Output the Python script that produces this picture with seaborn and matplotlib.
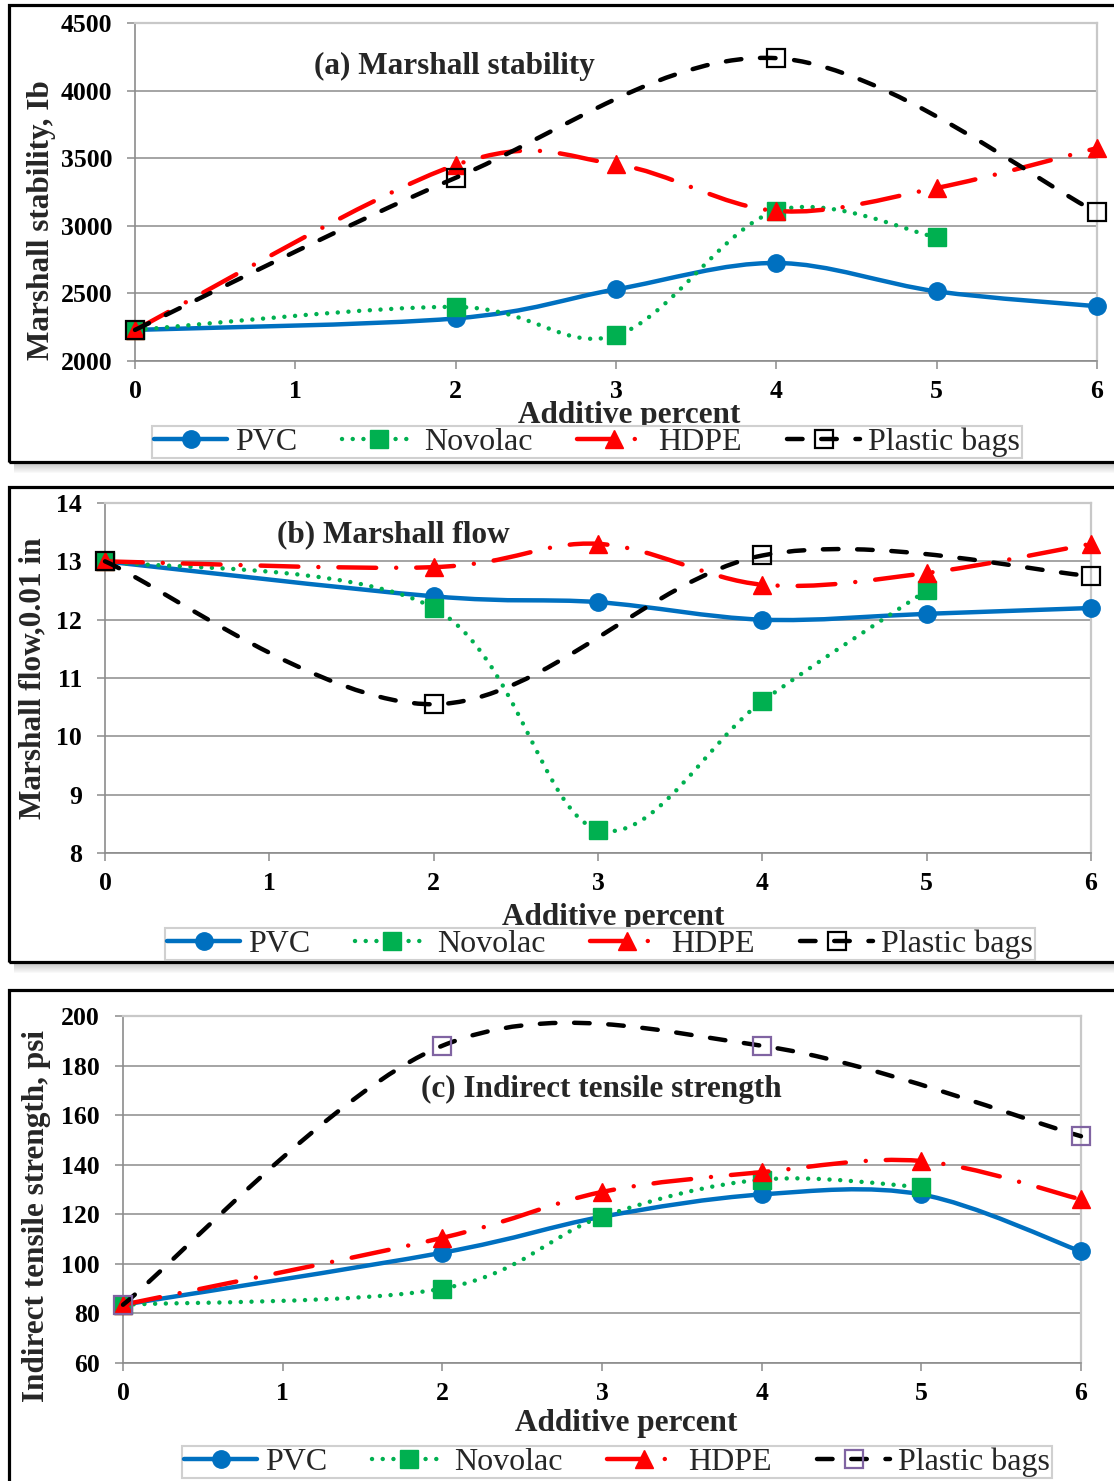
import numpy as np
import matplotlib
matplotlib.use("Agg")
import matplotlib.pyplot as plt
import seaborn as sns
from matplotlib.path import Path
from matplotlib.patches import PathPatch, Rectangle
from matplotlib.lines import Line2D

# ---------------- data ----------------
x_tick_labels = ["0", "1", "2", "3", "4", "5", "6"]
x_main = [0, 2, 3, 4, 5, 6]
x_novolac = [0, 2, 3, 4, 5]
x_bags = [0, 2, 4, 6]
series_names = ["PVC", "Novolac", "HDPE", "Plastic bags"]

stab_pvc = [2230, 2315, 2530, 2725, 2515, 2405]
stab_novolac = [2230, 2400, 2190, 3110, 2915]
stab_hdpe = [2230, 3450, 3455, 3110, 3280, 3575]
stab_bags = [2230, 3355, 4240, 3100]

flow_pvc = [13.0, 12.4, 12.3, 12.0, 12.1, 12.2]
flow_novolac = [13.0, 12.2, 8.4, 10.6, 12.5]
flow_hdpe = [13.0, 12.9, 13.3, 12.6, 12.8, 13.3]
flow_bags = [13.0, 10.55, 13.1, 12.75]

its_pvc = [83.5, 104.5, 119, 128, 128, 105]
its_novolac = [83.5, 90, 119, 134, 131]
its_hdpe = [83.5, 110.5, 129, 137, 141.5, 126]
its_bags = [83.5, 188, 188, 151.5]

# ---------------- style ----------------
sns.set_theme(style="white")
plt.rcParams["font.family"] = ["Liberation Serif", "DejaVu Serif"]

W, H = 1114, 1481
fig = plt.figure(figsize=(W / 100, H / 100), dpi=100)

LW = 3.2
STY = {
    "PVC": dict(color="#0070C0", ls="solid", marker="o", mfc="#0070C0", mec="#0070C0", mew=1, ms=12.5),
    "Novolac": dict(color="#00B050", ls=(0, (0.01, 2.4)), marker="s", mfc="#00B050", mec="#00B050", mew=1, ms=12.8),
    "HDPE": dict(color="#FF0000", ls=(0, (8.5, 4.5, 0.01, 4.5)), marker="^", mfc="#FF0000", mec="#FF0000", mew=1, ms=13),
    "Plastic bags": dict(color="black", ls=(0, (3.5, 4.2)), marker="s", mfc="none", mec="black", mew=1.6, ms=12.8),
}


def smooth_path(xs, ys):
    """Excel-like smoothed line: cubic Bezier through the data points."""
    P = np.column_stack([xs, ys]).astype(float)
    n = len(P)
    verts = [P[0]]
    codes = [Path.MOVETO]
    for i in range(n - 1):
        p_prev = P[i - 1] if i > 0 else P[i]
        p_next = P[i + 2] if i + 2 < n else P[i + 1]
        c1 = P[i] + (P[i + 1] - p_prev) / 6.0
        c2 = P[i + 1] - (p_next - P[i]) / 6.0
        verts += [c1, c2, P[i + 1]]
        codes += [Path.CURVE4] * 3
    return Path(verts, codes)


def px_ax(l, r, t, b):
    return [l / W, 1 - b / H, (r - l) / W, (b - t) / H]


def draw_frame(top, bottom, shadow=True):
    if shadow:
        for i in range(10):
            fig.patches.append(Rectangle((14 / W, 1 - (bottom + 2 + i) / H), 1.0, 1.2 / H,
                                         transform=fig.transFigure, facecolor="#808080",
                                         edgecolor="none", alpha=0.45 * (1 - i / 10), zorder=-1))
    fig.patches.append(Rectangle((9 / W, 1 - bottom / H), (W + 20) / W, (bottom - top) / H,
                                 transform=fig.transFigure, facecolor="none",
                                 edgecolor="black", lw=2.3, zorder=-1))


def panel(rect, xs_list, ys_list, ylim, yticks, title, title_xy, ylabel, ylabel_xy,
          xlabel_xy, leg_center, bag_edge):
    ax = fig.add_axes(px_ax(*rect))
    ax.set_facecolor("none")
    ax.set_xlim(0, 6)
    ax.set_ylim(*ylim)
    ax.set_xticks(range(7))
    ax.set_xticklabels(x_tick_labels)
    ax.set_yticks(yticks)
    ax.grid(axis="y", color="#8C8C8C", lw=1.1)
    ax.grid(axis="x", visible=False)
    ax.set_axisbelow(True)
    for s in ["left", "bottom"]:
        ax.spines[s].set_color("#8C8C8C")
        ax.spines[s].set_linewidth(1.2)
    for s in ["top", "right"]:
        ax.spines[s].set_color("#C8C8C8")
        ax.spines[s].set_linewidth(1.6)
    ax.tick_params(axis="both", which="major", bottom=True, left=True, direction="out",
                   length=5.5, width=1.1, color="#8C8C8C", labelsize=18.5, labelcolor="black")
    ax.tick_params(axis="x", pad=8)
    ax.tick_params(axis="y", pad=11)
    for lb in ax.get_xticklabels() + ax.get_yticklabels():
        lb.set_fontweight("bold")

    for k, (name, xs, ys) in enumerate(zip(series_names, xs_list, ys_list)):
        st = STY[name]
        patch = PathPatch(smooth_path(xs, ys), fill=False, edgecolor=st["color"], lw=LW,
                          linestyle=st["ls"], capstyle="round", joinstyle="round",
                          zorder=3 + 2 * k, clip_on=False)
        ax.add_patch(patch)
        mec = bag_edge if name == "Plastic bags" else st["mec"]
        sns.lineplot(x=xs, y=ys, ax=ax, linestyle="none", marker=st["marker"],
                     markersize=st["ms"], markerfacecolor=st["mfc"], markeredgecolor=mec,
                     markeredgewidth=st["mew"], zorder=4 + 2 * k, clip_on=False,
                     legend=False, errorbar=None)

    ax.text(title_xy[0], title_xy[1], title, transform=ax.transAxes, ha="center",
            va="center", fontsize=22.5, fontweight="bold", zorder=20)
    ax.set_ylabel(ylabel, fontsize=22.5, fontweight="bold", va="center", ha="center")
    ax.yaxis.set_label_coords(*ylabel_xy)
    ax.set_xlabel("Additive percent", fontsize=22.5, fontweight="bold", va="center", ha="center")
    ax.xaxis.set_label_coords(*xlabel_xy)

    handles = []
    for name in series_names:
        st = STY[name]
        mec = bag_edge if name == "Plastic bags" else st["mec"]
        handles.append(Line2D([], [], color=st["color"], lw=LW, linestyle=st["ls"],
                              dash_capstyle="round", solid_capstyle="round",
                              marker=st["marker"], markersize=st["ms"],
                              markerfacecolor=st["mfc"], markeredgecolor=mec,
                              markeredgewidth=st["mew"]))
    leg = ax.legend(handles, series_names, loc="center",
                    bbox_to_anchor=(leg_center[0] / W, 1 - leg_center[1] / H),
                    bbox_transform=fig.transFigure, ncol=4, fontsize=23,
                    frameon=True, fancybox=False, framealpha=1, edgecolor="#D0D0D0",
                    handlelength=2.3, handletextpad=0.25, columnspacing=1.4,
                    borderpad=0.05, borderaxespad=0)
    leg.get_frame().set_linewidth(1.5)
    leg.set_zorder(30)
    return ax


# frames
draw_frame(5, 462)
draw_frame(487, 962)
draw_frame(990, 1500, shadow=False)

panel((135, 1097, 23, 361),
      [x_main, x_novolac, x_main, x_bags],
      [stab_pvc, stab_novolac, stab_hdpe, stab_bags],
      (2000, 4500), range(2000, 4501, 500),
      "(a) Marshall stability", (0.332, 0.87),
      "Marshall stability, Ib", ((42 - 135) / 962, (361 - 220) / 338),
      ((629 - 135) / 962, (361 - 416) / 338), (587, 442), "black")

panel((105, 1091, 503, 853),
      [x_main, x_novolac, x_main, x_bags],
      [flow_pvc, flow_novolac, flow_hdpe, flow_bags],
      (8, 14), range(8, 15, 1),
      "(b) Marshall flow", (0.292, 0.908),
      "Marshall flow,0.01 in", ((33 - 105) / 986, (853 - 678) / 350),
      ((613 - 105) / 986, (853 - 917) / 350), (600, 944), "black")

panel((123, 1081, 1016, 1363),
      [x_main, x_novolac, x_main, x_bags],
      [its_pvc, its_novolac, its_hdpe, its_bags],
      (60, 200), range(60, 201, 20),
      "(c) Indirect tensile strength", (0.499, 0.787),
      "Indirect tensile strength, psi", ((37 - 123) / 958, (1363 - 1216) / 347),
      ((626 - 123) / 958, (1363 - 1424) / 347), (617, 1462), "#8064A2")

fig.savefig("out.png", dpi=100)
